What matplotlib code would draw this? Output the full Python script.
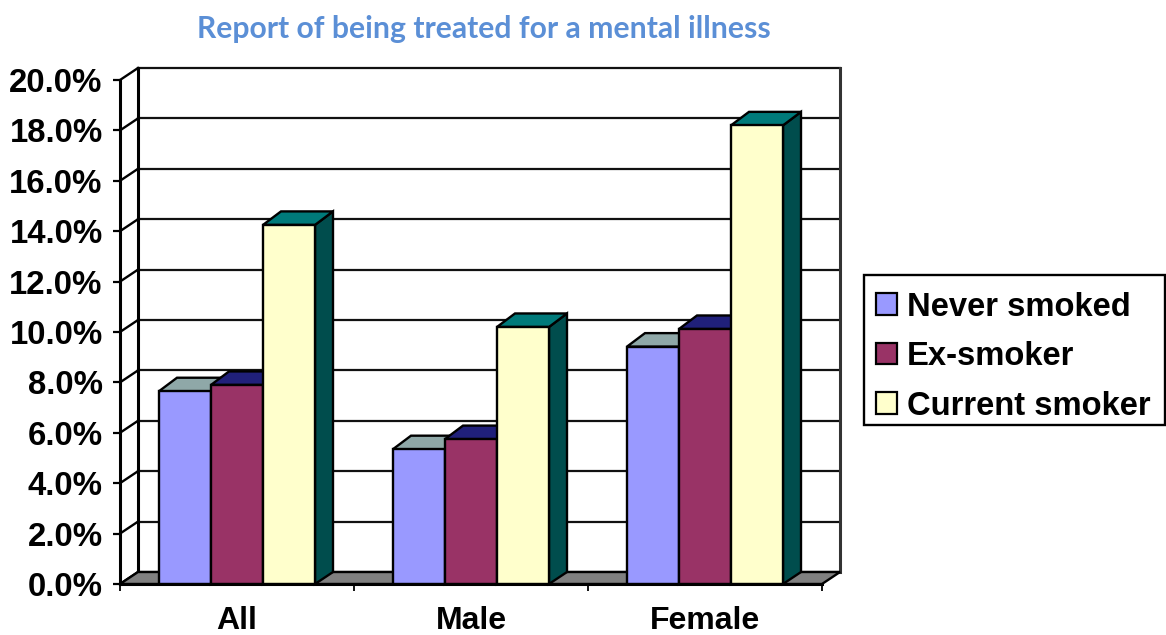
import matplotlib
matplotlib.use("Agg")
import matplotlib.pyplot as plt
from matplotlib.patches import Polygon, Patch, Rectangle
from matplotlib.ticker import FuncFormatter

categories = ["All", "Male", "Female"]
series_names = ["Never smoked", "Ex-smoker", "Current smoker"]
never_smoked = [7.65, 5.35, 9.42]
ex_smoker = [7.9, 5.75, 10.12]
current_smoker = [14.25, 10.2, 18.2]
y_ticks = [0, 2, 4, 6, 8, 10, 12, 14, 16, 18, 20]

W, H = 1166, 635
FX0, FX1, FY0, FY1 = 120, 822, 584, 80
DPX, DPY, DPY_TOP = 18, 12, 13.5
BAR_W = 52 / 234
front_cols = ["#9999FF", "#993366", "#FFFFCC"]
top_cols = ["#8FA8A8", "#20207A", "#007A7A"]
side_cols = ["#666699", "#662244", "#004D4D"]

fig = plt.figure(figsize=(W / 100, H / 100), dpi=100)
ax = fig.add_axes([FX0 / W, 1 - FY0 / H, (FX1 - FX0) / W, (FY0 - FY1) / H])
ax.set_xlim(0, 3)
ax.set_ylim(0, 20)
ax.patch.set_visible(False)
dx = DPX / ((FX1 - FX0) / 3)
dy = DPY / ((FY0 - FY1) / 20)
dyt = DPY_TOP / ((FY0 - FY1) / 20)
LW = 2.2
BLW = 1.7
ft = "Liberation Sans"

# walls, floor and gridlines
for v in y_ticks:
    ax.plot([dx, 3 + dx], [v + dy, v + dy], color="#111111", lw=1.6, zorder=1, clip_on=False)
    ax.plot([0, dx], [v, v + dy], color="black", lw=1.7, zorder=1, clip_on=False)
ax.plot([dx, dx], [dy, 20 + dy], color="black", lw=LW, zorder=1, clip_on=False)
ax.plot([3 + dx, 3 + dx], [dy, 20 + dy], color="#333333", lw=LW, zorder=1, clip_on=False)
ax.add_patch(Polygon([(0, 0), (3, 0), (3 + dx, dy), (dx, dy)], closed=True, facecolor="#808080",
                     edgecolor="black", lw=1.7, zorder=1.5, clip_on=False))

# bars with depth
z = 2.0
for i in range(len(categories)):
    for j, vals in enumerate([never_smoked, ex_smoker, current_smoker]):
        v = vals[i]
        x0 = i + 0.5 + (j - 1.5) * BAR_W
        x1 = x0 + BAR_W
        ax.add_patch(Polygon([(x1, 0), (x1 + dx, dy), (x1 + dx, v + dyt), (x1, v)], closed=True,
                             facecolor=side_cols[j], edgecolor="black", lw=BLW, zorder=z, clip_on=False))
        ax.add_patch(Polygon([(x0, v), (x1, v), (x1 + dx, v + dyt), (x0 + dx, v + dyt)], closed=True,
                             facecolor=top_cols[j], edgecolor="black", lw=BLW, zorder=z, clip_on=False))
        ax.bar(x0, v, width=BAR_W, align="edge", color=front_cols[j], edgecolor="black",
               linewidth=BLW, zorder=z + 0.1, clip_on=False)
        z += 0.2

# axes
for s in ["top", "right"]:
    ax.spines[s].set_visible(False)
ax.spines["left"].set_linewidth(LW)
ax.spines["bottom"].set_linewidth(LW)
ax.spines["bottom"].set_zorder(20)
ax.set_yticks(y_ticks)
ax.yaxis.set_major_formatter(FuncFormatter(lambda v, _: f"{v:.1f}%"))
ax.tick_params(axis="y", length=5, width=1.6, pad=7.5)
for lab in ax.get_yticklabels():
    lab.set_fontname(ft); lab.set_fontweight("bold"); lab.set_fontsize(23.7)
ax.set_xticks([0, 1, 2, 3])
ax.set_xticklabels([])
ax.tick_params(axis="x", which="major", length=5, width=1.3)
ax.set_xticks([0.5, 1.5, 2.5], minor=True)
ax.set_xticklabels(categories, minor=True, fontname=ft, fontweight="bold", fontsize=23)
ax.tick_params(axis="x", which="minor", length=0, pad=16)

fig.text(484 / W, 1 - 29 / H, "Report of being treated for a mental illness", ha="center", va="center",
         fontname="Lato", fontweight="bold", fontsize=21.7, color="#5B8FD6")

# legend frame and entries
fig.add_artist(Rectangle((864 / W, 1 - 425 / H), 301 / W, 150 / H, transform=fig.transFigure,
                         facecolor="white", edgecolor="black", linewidth=1.7))
handles = [Patch(facecolor=c, edgecolor="black", linewidth=1.6) for c in front_cols]
leg = fig.legend(handles, series_names, loc="upper left", bbox_to_anchor=(864 / W, 1 - 280 / H),
                 bbox_transform=fig.transFigure, borderaxespad=0, frameon=False,
                 prop={"family": ft, "weight": "bold", "size": 23.6},
                 handlelength=0.64, handleheight=0.64, handletextpad=0.3,
                 borderpad=0.36, labelspacing=0.56)

fig.savefig("out.png", dpi=100)
